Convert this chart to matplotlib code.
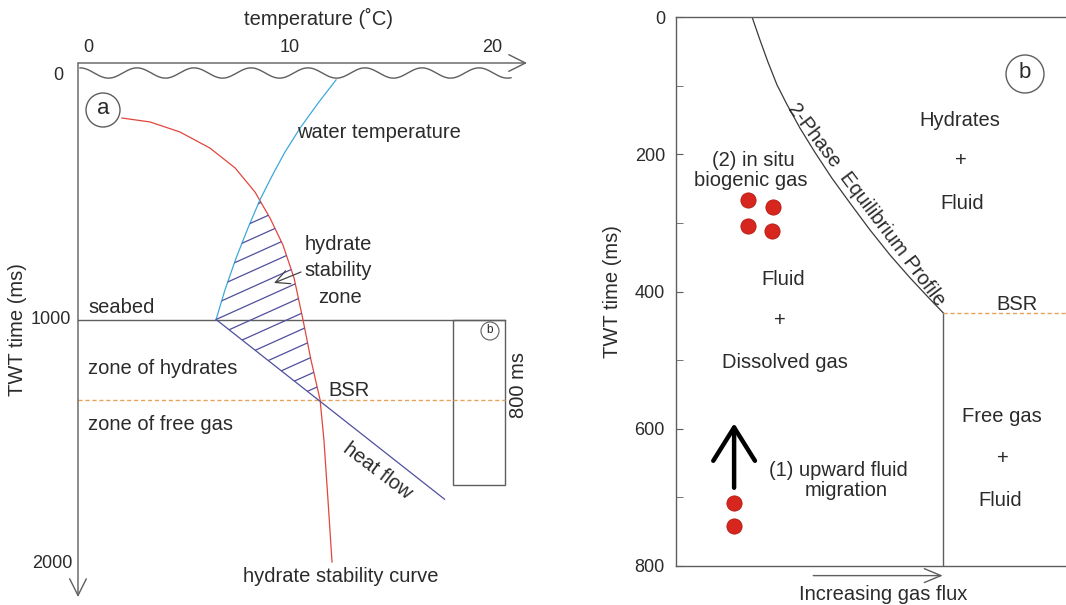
import numpy as np
import matplotlib
matplotlib.use("Agg")
import matplotlib.pyplot as plt
from matplotlib.patches import Polygon, Rectangle, Ellipse
from matplotlib.collections import LineCollection

plt.rcParams['font.family'] = ['Liberation Sans', 'DejaVu Sans']

# ---------------- data: panel a (temperature in degC, TWT in ms) ----------------
temp_ticks = [0, 10, 20]
twt_ticks_a = [0, 1000, 2000]
stab_T = [1.68, 3.07, 4.55, 6.04, 7.28, 8.27, 9.01, 9.65, 10.20, 10.64, 11.04, 11.49, 11.68, 11.88, 12.08]
stab_ms = [176, 192, 233, 299, 380, 479, 585, 695, 830, 1000, 1166, 1329, 1493, 1738, 1992]
water_T = [12.28, 11.39, 10.50, 9.75, 9.11, 8.51, 7.92, 7.33, 6.78, 6.34]
water_ms = [20, 115, 217, 315, 413, 511, 626, 749, 879, 1000]
heat_T = [6.34, 17.65]
heat_ms = [1000, 1735]
seabed_ms = 1000
bsr_ms_a = 1329
box_T = [18.05, 20.65]
box_ms = [1000, 1677]

# ---------------- data: panel b (gas flux, TWT in ms) ----------------
twt_ticks_b = [0, 200, 400, 600, 800]
eq_flux = [0.195, 0.215, 0.236, 0.259, 0.285, 0.318, 0.356, 0.400, 0.446, 0.497, 0.549, 0.600, 0.646, 0.685]
eq_ms = [0, 33, 66, 99, 128, 162, 197, 235, 271, 310, 347, 380, 408, 431]
bsr_ms_b = 431
bsr_flux = 0.685
insitu_flux = [0.185, 0.249, 0.185, 0.246]
insitu_ms = [267, 277, 305, 312]
upward_flux = [0.149, 0.149]
upward_ms = [708, 742]

W, H = 1066, 605
TXT = '#2b2b2b'
GRAY = '#5e5e5e'
RED = '#e2463c'
BLUE = '#3ea8da'
PURP = '#4f4f9e'
ORANGE = '#e6a35c'
FS = 14.5
TFS = 13

fig = plt.figure(figsize=(W / 100, H / 100), dpi=100)
fig.patch.set_facecolor('white')


def ftext(px, py, s, **kw):
    kw.setdefault('fontsize', FS)
    kw.setdefault('color', TXT)
    kw.setdefault('ha', 'center')
    kw.setdefault('va', 'center')
    return fig.text(px / W, 1 - py / H, s, **kw)


# ================= panel a =================
sx, x0 = 20.2, 88.0      # px per degC, px of 0 degC
sy, y0 = 0.2445, 75.0    # px per ms, px of 0 ms
axa = fig.add_axes([0, 0, 540 / W, 1])
axa.set_xlim(-x0 / sx, (540 - x0) / sx)
axa.set_ylim((H - y0) / sy, -y0 / sy)
axa.axis('off')

ax_left_T = (78 - x0) / sx
ax_top_ms = (63 - y0) / sy
arrow_kw = dict(arrowstyle='->,head_length=0.6,head_width=0.3', color=GRAY, lw=1.0,
                shrinkA=0, shrinkB=0, mutation_scale=20)
axa.annotate('', xy=((527 - x0) / sx, ax_top_ms), xytext=(ax_left_T, ax_top_ms), arrowprops=arrow_kw)
axa.annotate('', xy=(ax_left_T, (597 - y0) / sy), xytext=(ax_left_T, ax_top_ms), arrowprops=arrow_kw)

# tick labels
for t in temp_ticks:
    axa.text(t, (47 - y0) / sy, str(t), ha='center', va='center', fontsize=TFS, color=TXT)
for m, xr in zip(twt_ticks_a, [63, 71, 73]):
    axa.text((xr - x0) / sx, m, str(m), ha='right', va='center', fontsize=TFS, color=TXT)
ftext(318, 18, 'temperature (˚C)')
ftext(18, 330, 'TWT time (ms)', rotation=90)

# sea surface wave
Tw = np.linspace((80 - x0) / sx, (511 - x0) / sx, 500)
msw = (73 - y0) / sy - 21 * np.cos(2 * np.pi * (Tw - Tw[0]) / (57 / sx))
axa.plot(Tw, msw, color=GRAY, lw=1.0)

# seabed, BSR, box
axa.plot([ax_left_T, box_T[1]], [seabed_ms, seabed_ms], color=GRAY, lw=1.0)
axa.plot([ax_left_T, box_T[1]], [bsr_ms_a, bsr_ms_a], color=ORANGE, lw=1.0, ls=(0, (3, 2)))
axa.add_patch(Rectangle((box_T[0], box_ms[0]), box_T[1] - box_T[0], box_ms[1] - box_ms[0],
                        fill=False, edgecolor=GRAY, lw=1.0))

# curves
axa.plot(stab_T, stab_ms, color=RED, lw=0.9)
axa.plot(water_T, water_ms, color=BLUE, lw=0.9)
axa.plot(heat_T, heat_ms, color=PURP, lw=0.9)

# hatched hydrate stability zone
grid = np.linspace(300, bsr_ms_a, 800)
rT = np.interp(grid, stab_ms, stab_T)
wT = np.interp(grid, water_ms, water_T)
hT = np.interp(grid, heat_ms, heat_T)
lT = np.where(grid <= seabed_ms, wT, hT)
ok = rT > lT
g = grid[ok]
poly = np.vstack([np.column_stack([lT[ok], g]), np.column_stack([rT[ok], g])[::-1]])
clip = Polygon(poly, closed=True, facecolor='none', edgecolor='none')
axa.add_patch(clip)
k = 0.45 * sx / sy
c0 = seabed_ms + k * heat_T[0]
segs = []
for n in range(-10, 12):
    c = c0 + n * 66
    segs.append([(4, c - k * 4), (14, c - k * 14)])
lc = LineCollection(segs, colors=PURP, linewidths=0.9)
axa.add_collection(lc)
lc.set_clip_path(clip)

# circles
axa.add_patch(Ellipse(((103 - x0) / sx, (110 - y0) / sy), 34 / sx, 34 / sy,
                      fill=False, edgecolor=GRAY, lw=1.0))
ftext(103, 109, 'a', fontsize=16)
axa.add_patch(Ellipse(((490 - x0) / sx, (331 - y0) / sy), 18 / sx, 18 / sy,
                      fill=False, edgecolor=GRAY, lw=0.8))
ftext(490, 330, 'b', fontsize=8.5)

# labels
ftext(297, 132, 'water temperature', ha='left')
ftext(338, 244, 'hydrate')
ftext(338, 270, 'stability')
ftext(340, 297, 'zone')
axa.annotate('', xy=((274 - x0) / sx, (283 - y0) / sy), xytext=((301 - x0) / sx, (272 - y0) / sy),
             arrowprops=dict(arrowstyle='->,head_length=0.5,head_width=0.25', color='#444444', lw=0.9,
                             shrinkA=0, shrinkB=0, mutation_scale=20))
ftext(88, 308, 'seabed', ha='left')
ftext(88, 368, 'zone of hydrates', ha='left')
ftext(328, 390, 'BSR', ha='left')
ftext(88, 425, 'zone of free gas', ha='left')
ftext(378, 471, 'heat flow', rotation=-37)
ftext(519, 385, '800 ms', rotation=90)
ftext(341, 576, 'hydrate stability curve')

# ================= panel b =================
L, R, T, B = 676, 1066, 17, 566
axb = fig.add_axes([L / W, 1 - B / H, (R - L) / W, (B - T) / H])
axb.set_xlim(0, 1)
axb.set_ylim(800, 0)
for s in ['top', 'left', 'bottom']:
    axb.spines[s].set_color(GRAY)
    axb.spines[s].set_linewidth(1.0)
axb.spines['right'].set_visible(False)
axb.set_xticks([])
axb.set_yticks(twt_ticks_b)
axb.set_yticks([100, 300, 500, 700], minor=True)
axb.tick_params(axis='y', which='both', direction='in', length=5, color=GRAY, labelsize=TFS,
                labelcolor=TXT, pad=8)
axb.set_ylabel('TWT time (ms)', fontsize=FS, color=TXT, labelpad=9)

axb.plot(eq_flux, eq_ms, color='#3a3a3a', lw=0.9)
axb.plot([bsr_flux, bsr_flux], [bsr_ms_b, 800], color=GRAY, lw=1.0)
axb.plot([bsr_flux, 1], [bsr_ms_b, bsr_ms_b], color=ORANGE, lw=1.0, ls=(0, (3, 2)))

axb.scatter(insitu_flux, insitu_ms, s=120, c='#d7261d', edgecolors='#b51b15', linewidths=0.6, zorder=5)
axb.scatter(upward_flux, upward_ms, s=120, c='#d7261d', edgecolors='#b51b15', linewidths=0.6, zorder=5)
axb.annotate('', xy=(upward_flux[0], 592), xytext=(upward_flux[0], 686),
             arrowprops=dict(arrowstyle='->,head_length=1.2,head_width=0.75', color='black', lw=3.2,
                             shrinkA=0, shrinkB=0, mutation_scale=20))
axb.annotate('', xy=(0.684, 814), xytext=(0.352, 814), annotation_clip=False,
             arrowprops=dict(arrowstyle='->,head_length=0.6,head_width=0.25', color=GRAY, lw=1.0,
                             shrinkA=0, shrinkB=0, mutation_scale=20))

axb.add_patch(Ellipse(((1025 - L) / (R - L), (74 - T) / ((B - T) / 800)), 38 / (R - L), 38 / ((B - T) / 800),
                      fill=False, edgecolor=GRAY, lw=1.0))
ftext(1025, 73, 'b', fontsize=16)

ftext(960, 120, 'Hydrates')
ftext(961, 161, '+')
ftext(962, 203, 'Fluid')
ftext(753, 160, '(2) in situ')
ftext(751, 180, 'biogenic gas')
ftext(783, 279, 'Fluid')
ftext(780, 320, '+')
ftext(785, 362, 'Dissolved gas')
ftext(1002, 417, 'Free gas')
ftext(1003, 458, '+')
ftext(1000, 500, 'Fluid')
ftext(838, 470, '(1) upward fluid')
ftext(846, 490, 'migration')
ftext(1017, 305, 'BSR')
ftext(883, 595, 'Increasing gas flux')
ftext(866, 205, '2-Phase  Equilibrium Profile', rotation=-53, rotation_mode='anchor')

fig.savefig('out.png', dpi=100, facecolor='white')
